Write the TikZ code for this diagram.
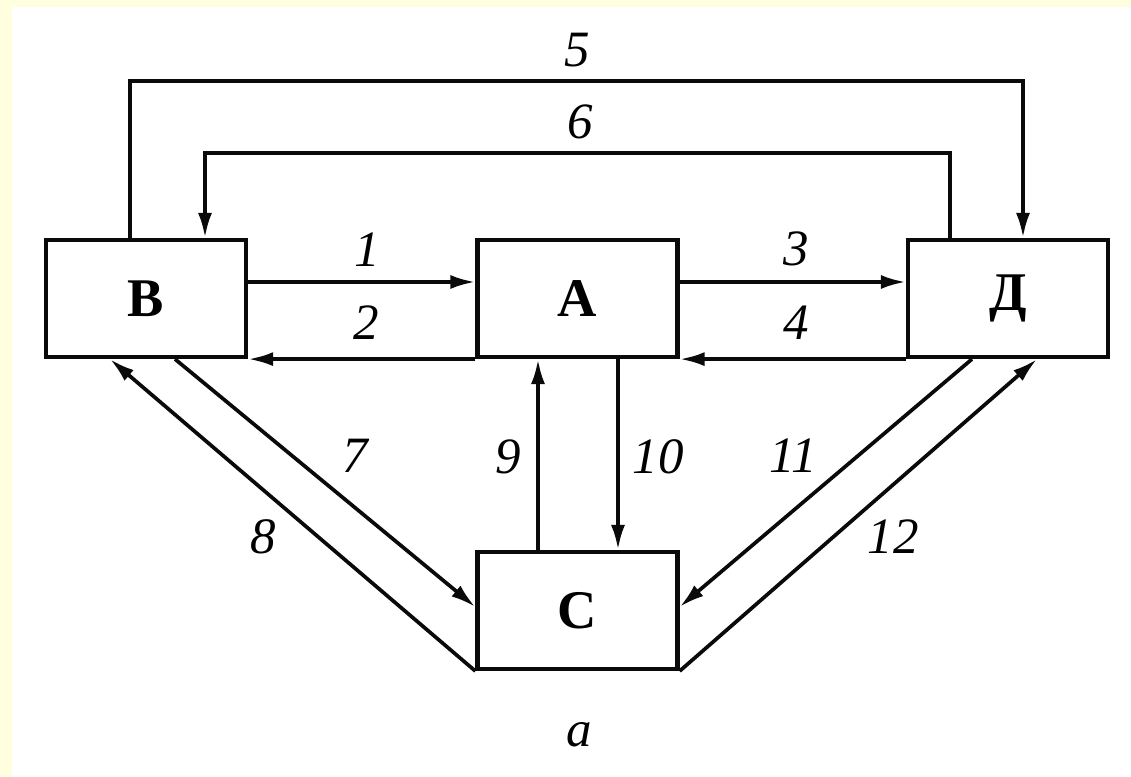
\documentclass[tikz,border=0pt]{standalone}
\usepackage{fontspec}
\setmainfont{Liberation Serif}
\usetikzlibrary{arrows.meta, positioning, calc}
\definecolor{paperYellow}{RGB}{255, 255, 224}
\definecolor{inkBlack}{RGB}{10, 10, 10}

\begin{document}
\begin{tikzpicture}[
        blok/.style={rectangle, draw=inkBlack, fill=white, line width=2.4pt, minimum width=4cm, minimum height=2.34cm, font=\fontsize{31}{36}\selectfont\bfseries},
        arr/.style={-{Latex[length=0.5cm, width=0.28cm]}, line width=2.1pt, inkBlack},
        num/.style={font=\fontsize{29}{34}\selectfont\itshape, inner sep=0pt}
      ]
        % background
        \fill[paperYellow] (0,0) rectangle (22.62,-15.54);
        \fill[white] (0.24,-0.14) rectangle (22.62,-15.54);
        \useasboundingbox (0,0) rectangle (22.62,-15.54);
        \node[blok] (V) at (2.92,-5.97) {В};
        \node[blok] (A) at (11.55,-5.97) {А};
        \node[blok] (D) at (20.16,-5.97) {Д};
        \node[blok] (S) at (11.55,-12.21) {С};
        % horizontal links
        \draw[arr] ([yshift=0.33cm]V.east) -- ([yshift=0.33cm]A.west);
        \draw[arr] (A.south west) -- (V.south east);
        \draw[arr] ([yshift=0.33cm]A.east) -- ([yshift=0.33cm]D.west);
        \draw[arr] (D.south west) -- (A.south east);
        % top loops
        \draw[arr] ([xshift=-0.32cm]V.north) -- ++(0,3.14cm) -| ([xshift=0.3cm]D.north);
        \draw[arr] ([xshift=-1.16cm]D.north) -- ++(0,1.7cm) -| ([xshift=1.18cm]V.north);
        % vertical links
        \draw[arr] ([xshift=-0.79cm]S.north) -- ([xshift=-0.79cm]A.south);
        \draw[arr] ([xshift=0.81cm]A.south) -- ([xshift=0.81cm]S.north);
        % diagonal links
        \draw[arr] ([xshift=0.58cm]V.south) -- ([yshift=0.07cm]S.west);
        \draw[arr] (S.south west) -- ([xshift=-0.72cm]V.south);
        \draw[arr] ([xshift=-0.72cm]D.south) -- ([yshift=0.07cm]S.east);
        \draw[arr] (S.south east) -- ([xshift=0.58cm]D.south);
        % labels
        \node[num] (n1) at (7.34,-5.0) {1};
        \node[num] (n2) at (7.32,-6.46) {2};
        \node[num] (n3) at (15.92,-4.98) {3};
        \node[num] (n4) at (15.92,-6.46) {4};
        \node[num] (n5) at (11.55,-1.0) {5};
        \node[num] (n6) at (11.6,-2.44) {6};
        \node[num] (n7) at (7.1,-9.12) {7};
        \node[num] (n8) at (5.26,-10.74) {8};
        \node[num] (n9) at (10.16,-9.14) {9};
        \node[num] (n10) at (13.16,-9.14) {10};
        \node[num] (n11) at (15.86,-9.12) {11};
        \node[num] (n12) at (17.86,-10.74) {12};
        \node[num] (cap) at (11.58,-14.7) {a};
      \end{tikzpicture}
\end{document}
